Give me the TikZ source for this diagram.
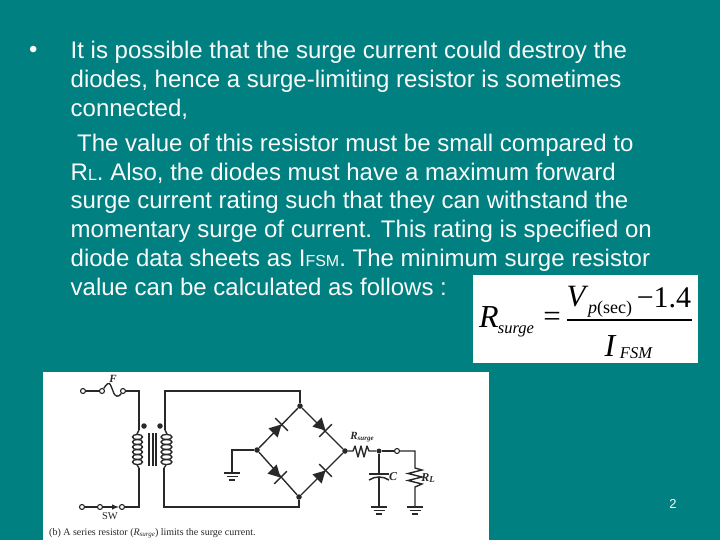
\documentclass[tikz,border=0pt]{standalone}
\usepackage{fontspec}
\setmainfont{Liberation Sans}
\newfontfamily\timesf{Liberation Serif}
\usetikzlibrary{calc}
\definecolor{slidebg}{RGB}{0,128,128}
\definecolor{bodytext}{RGB}{250,250,250}
\definecolor{ink}{RGB}{40,40,40}
\newcommand{\fs}[1]{\fontsize{#1}{#1}\selectfont}
\newcommand{\smalltxt}[1]{{\fs{16}#1}}
\newcommand{\diodesym}[2]{%
  \begin{scope}[shift={(#1)},rotate=#2]
    \fill[ink] (-7,-6.5) -- (-7,6.5) -- (5,0) -- cycle;
    \draw[wire] (5,-9) -- (5,9);
  \end{scope}}
\newcommand{\groundsym}[1]{%
  \draw[wire] ($(#1)+(-8,0)$) -- ($(#1)+(8,0)$);
  \draw[wire] ($(#1)+(-5.5,3.5)$) -- ($(#1)+(5.5,3.5)$);
  \draw[wire] ($(#1)+(-3,7)$) -- ($(#1)+(3,7)$);}
\tikzset{
  x=1pt,y=-1pt,
  linetxt/.style={anchor=base west,inner sep=0pt,text=bodytext,font=\fs{24}},
  wire/.style={draw=ink,line width=1.35pt},
  term/.style={circle,draw=ink,fill=white,line width=1.1pt,inner sep=0pt,minimum size=5pt},
  jdot/.style={circle,fill=ink,inner sep=0pt,minimum size=5.5pt},
  figtxt/.style={inner sep=0pt,text=ink},
  eqn/.style={inner sep=0pt,text=black},
}
\begin{document}
\begin{tikzpicture}
\useasboundingbox (0,0) rectangle (720,540);
\fill[slidebg] (0,0) rectangle (720,540);
% bullet text
\node[linetxt] (bul) at (29,58) {•};
\node[linetxt] (l1) at (70.5,58.5) {It is possible that the surge current could destroy the};
\node[linetxt] (l2) at (70.5,88) {diodes, hence a surge-limiting resistor is sometimes};
\node[linetxt] (l3) at (70.5,116.5) {connected,};
\node[linetxt] (l4) at (77,151.5) {The value of this resistor must be small compared to};
\node[linetxt] (l5) at (70.5,180.5) {R\smalltxt{L}. Also, the diodes must have a maximum forward};
\node[linetxt] (l6) at (70.5,209) {surge current rating such that they can withstand the};
\node[linetxt] (l7) at (70.5,237.5) {momentary surge of current. This rating is specified on};
\node[linetxt] (l8) at (70.5,266.5) {diode data sheets as I\smalltxt{FSM}. The minimum surge resistor};
\node[linetxt] (l9) at (70.5,295) {value can be calculated as follows :};
\node[anchor=center,inner sep=0pt,text=bodytext,font=\fs{13}] (pg) at (673,504) {2};
% formula
\fill[white] (473,275) rectangle (698,363);
\node[eqn,font=\timesf\itshape\fs{32}] (eR) at (489,317) {R};
\node[eqn,font=\timesf\itshape\fs{16.5}] (eS) at (516,331) {surge};
\node[eqn,font=\timesf\fs{31}] (eE) at (552,319) {=};
\node[eqn,font=\timesf\itshape\fs{31}] (eV) at (576,297) {V};
\node[eqn,font=\timesf\fs{18}] (eP) at (610,309) {\textit{p}(sec)};
\node[eqn,font=\timesf\fs{30}] (eN) at (664,298) {−1.4};
\node[eqn,font=\timesf\itshape\fs{32}] (eI) at (610,346) {I};
\node[eqn,font=\timesf\itshape\fs{16.5}] (eF) at (636,353) {FSM};
\coordinate (ra) at (567,320); \coordinate (rb) at (692,320);
\draw[black,line width=1.1pt] (ra) -- (rb);
% figure
\fill[white] (43,372) rectangle (489,540);
\node[term] (tA) at (83,391) {};
\node[term] (f1) at (102,391) {};
\node[term] (f2) at (123,391) {};
\coordinate (pT) at (139,391);
\coordinate (pU) at (139,430);
\coordinate (pL) at (139,468);
\coordinate (pB) at (139,507);
\node[term] (tB) at (82,507) {};
\node[term] (s1) at (100,507) {};
\node[term] (s2) at (122,507) {};
\coordinate (sT) at (165,391);
\coordinate (sU) at (165,430);
\coordinate (sL) at (164,468);
\coordinate (sB) at (164,507);
\node[jdot] (bT) at (300,406) {};
\node[jdot] (bR) at (345,451) {};
\node[jdot] (bB) at (299,497) {};
\node[jdot] (bL) at (257,450) {};
\coordinate (gA) at (232,450);
\coordinate (gB) at (232,473);
\coordinate (xT) at (300,391);
\coordinate (xB) at (299,507);
\node[jdot,minimum size=5pt] (jC) at (379,451) {};
\node[term] (tO) at (397,451) {};
\coordinate (rT) at (415,451);
\coordinate (rU) at (415,468);
\coordinate (rL) at (415,487);
\coordinate (rG) at (415,507);
\coordinate (cU) at (379,474);
\coordinate (cL) at (379,478);
\coordinate (cG) at (379,507);
\node[jdot] (d1) at (144,426) {};
\node[jdot] (d2) at (160,426) {};
% wires
\draw[wire] (tA) -- (f1);
\draw[wire] (f1) .. controls (110,379) and (110,384) .. (113,391) .. controls (115,398) and (119,397) .. (f2);
\draw[wire] (f2) -- (pT) -- (pU);
\draw[wire] (pL) -- (pB) -- (s2);
\draw[wire] (tB) -- (s1);
\draw[wire,-latex] (s1) -- (s2);
\draw[wire] (pU) -- (137,434);
\draw[wire] (pL) -- (137,465);
\foreach \yy in {437,442,447,452,457,462} {
  \draw[wire] (137.5,\yy) ellipse [x radius=5,y radius=2.6];
  \draw[wire] (166.5,\yy) ellipse [x radius=5.5,y radius=2.6];
}
\foreach \xx in {149,153,156} \draw[ink,line width=1.2pt] (\xx,433) -- (\xx,466);
\draw[wire] (sU) -- (167,434);
\draw[wire] (sL) -- (166,465);
\draw[wire] (sU) -- (sT) -- (xT) -- (bT);
\draw[wire] (sL) -- (sB) -- (xB) -- (bB);
\draw[wire] (bT) -- (bR) -- (bB) -- (bL) -- (bT);
\draw[wire] (bL) -- (gA) -- (gB);
\groundsym{gB}
\diodesym{278,428}{45}
\diodesym{322,427}{-45}
\diodesym{277,474}{-45}
\diodesym{322,474}{45}
\draw[wire,line join=round] (bR) -- (353,451) -- (355,446) -- (358,457) -- (361,446) -- (364,457) -- (367,446) -- (369,451) -- (jC);
\draw[wire] (jC) -- (tO);
\draw[wire] (tO) -- (rT) -- (rU) -- (422,470) -- (408,473.5) -- (422,477) -- (408,480.5) -- (422,484) -- (rL) -- (rG);
\groundsym{rG}
\draw[wire] (jC) -- (cU);
\draw[ink,line width=1.5pt] (369,474) -- (389,474);
\draw[ink,line width=1.5pt] (369,480) .. controls (375,476) and (383,476) .. (389,480);
\draw[wire] (cL) -- (cG);
\groundsym{cG}
% figure labels
\node[figtxt,font=\timesf\itshape\bfseries\fs{11}] (lF) at (113,379) {F};
\node[figtxt,font=\timesf\fs{10.5}] (lSW) at (110,516) {SW};
\node[figtxt,font=\timesf\itshape\bfseries\fs{11}] (lRs) at (362,437) {R\raisebox{-1.5pt}{\fs{7}surge}};
\node[figtxt,font=\timesf\itshape\bfseries\fs{12}] (lC) at (393,477) {C};
\node[figtxt,font=\timesf\itshape\bfseries\fs{12}] (lRL) at (428,478) {R\raisebox{-1.5pt}{\fs{9}L}};
\node[figtxt,anchor=base west,font=\timesf\fs{10}] (cap) at (49,535) {(b) A series resistor (\textit{R\raisebox{-1pt}{\fs{7}surge}}) limits the surge current.};
\end{tikzpicture}
\end{document}
